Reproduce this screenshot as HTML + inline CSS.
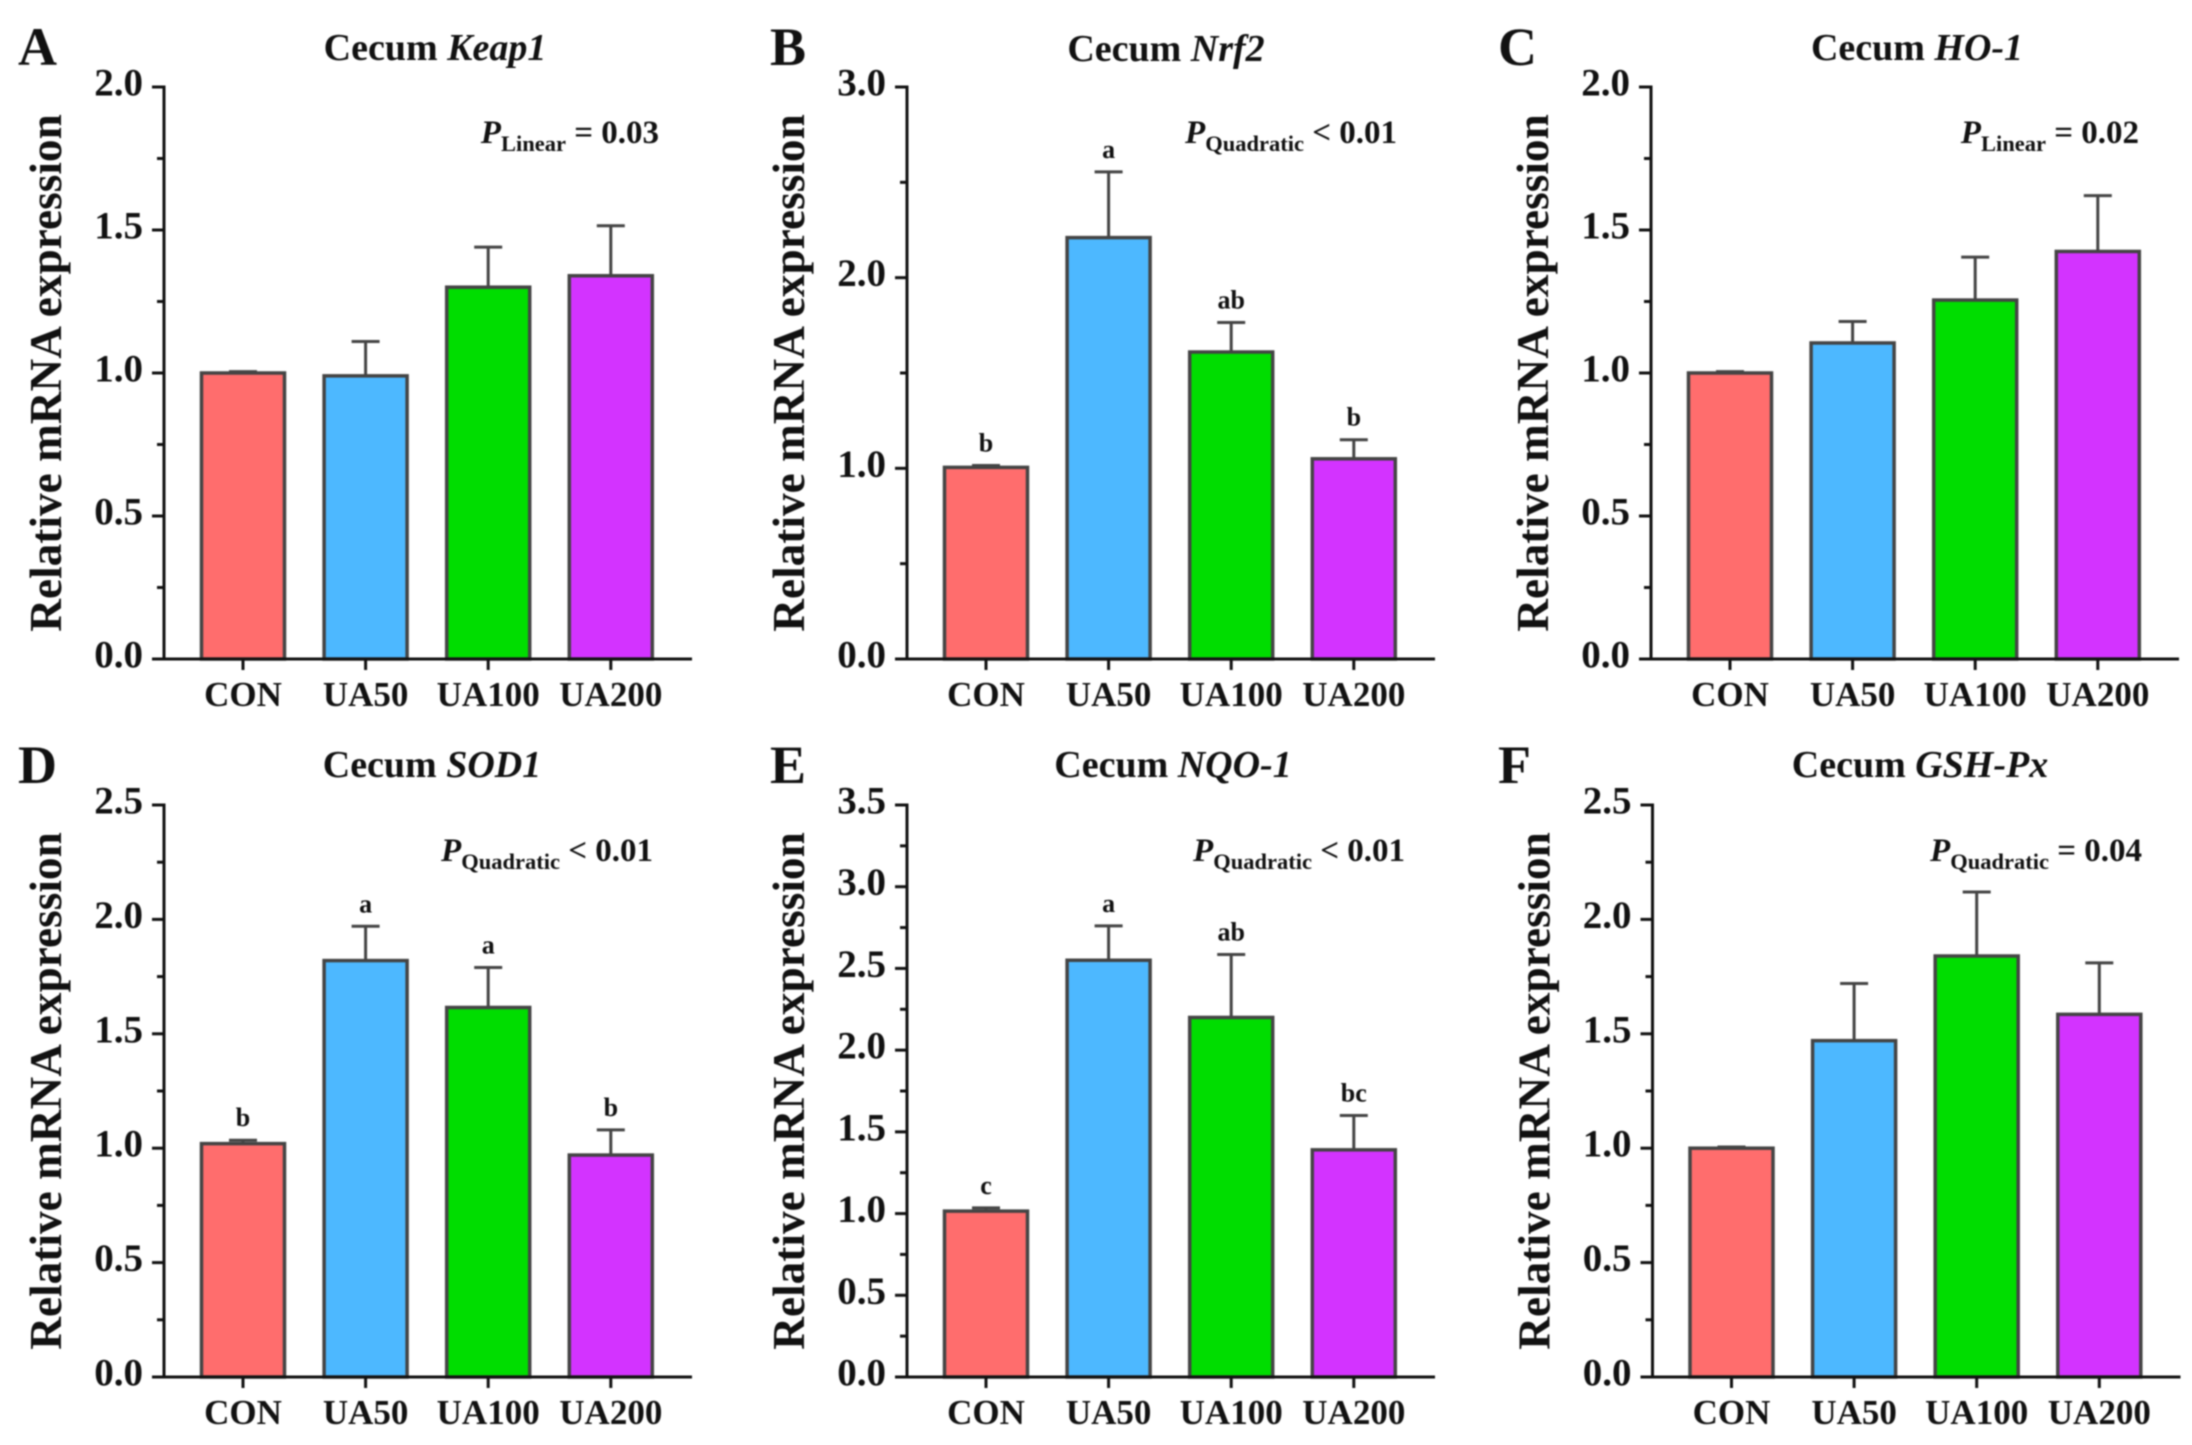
<!DOCTYPE html>
<html lang="en">
<head>
<meta charset="utf-8">
<title>Cecum mRNA expression</title>
<style>
html,body{margin:0;padding:0;background:#fff;width:2192px;height:1445px;overflow:hidden}
svg{display:block;filter:blur(.8px)}
text{font-family:"Liberation Serif",serif;font-weight:700;fill:#111}
</style>
</head>
<body>
<svg id="figure" xmlns="http://www.w3.org/2000/svg" width="2192" height="1445" viewBox="0 0 2192 1445"></svg>
<script>
const categories = ['CON', 'UA50', 'UA100', 'UA200'];

const keap1Means = [1.00, 0.99, 1.30, 1.34];
const keap1Errors = [0.005, 0.12, 0.14, 0.175];
const keap1Letters = ['', '', '', ''];
const keap1Ticks = ['0.0', '0.5', '1.0', '1.5', '2.0'];

const nrf2Means = [1.005, 2.21, 1.61, 1.05];
const nrf2Errors = [0.01, 0.345, 0.155, 0.10];
const nrf2Letters = ['b', 'a', 'ab', 'b'];
const nrf2Ticks = ['0.0', '1.0', '2.0', '3.0'];

const ho1Means = [1.00, 1.105, 1.255, 1.425];
const ho1Errors = [0.005, 0.075, 0.15, 0.195];
const ho1Letters = ['', '', '', ''];
const ho1Ticks = ['0.0', '0.5', '1.0', '1.5', '2.0'];

const sod1Means = [1.02, 1.82, 1.615, 0.97];
const sod1Errors = [0.015, 0.15, 0.175, 0.11];
const sod1Letters = ['b', 'a', 'a', 'b'];
const sod1Ticks = ['0.0', '0.5', '1.0', '1.5', '2.0', '2.5'];

const nqo1Means = [1.015, 2.55, 2.20, 1.39];
const nqo1Errors = [0.02, 0.21, 0.385, 0.21];
const nqo1Letters = ['c', 'a', 'ab', 'bc'];
const nqo1Ticks = ['0.0', '0.5', '1.0', '1.5', '2.0', '2.5', '3.0', '3.5'];

const gshPxMeans = [1.00, 1.47, 1.84, 1.585];
const gshPxErrors = [0.005, 0.25, 0.28, 0.225];
const gshPxLetters = ['', '', '', ''];
const gshPxTicks = ['0.0', '0.5', '1.0', '1.5', '2.0', '2.5'];

const barColors = ['#FF6D6D', '#4DB8FF', '#00DD00', '#D333FF'];

const panels = [
  {id:'a', letter:'A', gene:'Keap1', means:keap1Means, errors:keap1Errors, marks:keap1Letters, ticks:keap1Ticks, pSub:'Linear', pText:' = 0.03', left:164, top:87, letterX:18, titleX:436, pX:659, titleY:60},
  {id:'b', letter:'B', gene:'Nrf2', means:nrf2Means, errors:nrf2Errors, marks:nrf2Letters, ticks:nrf2Ticks, pSub:'Quadratic', pText:' < 0.01', left:907, top:87, letterX:770, titleX:1167, pX:1397, titleY:61},
  {id:'c', letter:'C', gene:'HO-1', means:ho1Means, errors:ho1Errors, marks:ho1Letters, ticks:ho1Ticks, pSub:'Linear', pText:' = 0.02', left:1651, top:87, letterX:1498, titleX:1918, pX:2139, titleY:60},
  {id:'d', letter:'D', gene:'SOD1', means:sod1Means, errors:sod1Errors, marks:sod1Letters, ticks:sod1Ticks, pSub:'Quadratic', pText:' < 0.01', left:164, top:805, letterX:18, titleX:433, pX:653, titleY:777},
  {id:'e', letter:'E', gene:'NQO-1', means:nqo1Means, errors:nqo1Errors, marks:nqo1Letters, ticks:nqo1Ticks, pSub:'Quadratic', pText:' < 0.01', left:907, top:805, letterX:770, titleX:1174, pX:1405, titleY:777},
  {id:'f', letter:'F', gene:'GSH-Px', means:gshPxMeans, errors:gshPxErrors, marks:gshPxLetters, ticks:gshPxTicks, pSub:'Quadratic', pText:' = 0.04', left:1652.5, top:805, letterX:1498, titleX:1921, pX:2142, titleY:777}
];

const NS = 'http://www.w3.org/2000/svg';
const PLOT_HEIGHT = 572;
const PLOT_WIDTH = 528;
const BAR_WIDTH = 83;
const FIRST_BAR = 79;
const BAR_STEP = 122.6;
const AXIS_COLOR = '#111';
const BAR_STROKE = '#444';
const figure = document.getElementById('figure');

function make(tag, parent) {
  const el = document.createElementNS(NS, tag);
  parent.appendChild(el);
  return el;
}
function setLine(el, x1, y1, x2, y2, color, width) {
  el.setAttribute('x1', x1);
  el.setAttribute('y1', y1);
  el.setAttribute('x2', x2);
  el.setAttribute('y2', y2);
  el.setAttribute('stroke', color);
  el.setAttribute('stroke-width', width);
}
function setText(el, x, y, size, anchor, content) {
  el.setAttribute('x', x);
  el.setAttribute('y', y);
  el.setAttribute('font-size', size);
  el.setAttribute('text-anchor', anchor);
  if (content !== undefined) el.textContent = content;
}

panels.forEach(function (p) {
  const maxValue = parseFloat(p.ticks[p.ticks.length - 1]);
  const bottom = p.top + PLOT_HEIGHT;
  const yScale = function (v) { return bottom - (v / maxValue) * PLOT_HEIGHT; };
  const xScale = function (i) { return p.left + FIRST_BAR + i * BAR_STEP; };

  const g = make('g', figure);
  
  

  const letter = make('text', g);
  
  
  setText(letter, p.letterX, p.top - 22, 54, 'start', p.letter);

  const title = make('text', g);
  
  
  setText(title, p.titleX - 1, p.titleY, 38, 'middle');
  const titleA = make('tspan', title);
  titleA.textContent = 'Cecum ';
  const titleB = make('tspan', title);
  titleB.setAttribute('font-style', 'italic');
  titleB.textContent = p.gene;

  const yTitle = make('text', g);
  
  
  setText(yTitle, 0, 0, 45.3, 'middle', 'Relative mRNA expression');
  yTitle.setAttribute('transform', 'translate(' + (p.left - 100 - 3) + ',' + (p.top + 286) + ') rotate(-90)');

  p.means.forEach(function (m, i) {
    const errorTop = yScale(m + p.errors[i]);
    const barTop = yScale(m);
    const cx = xScale(i);

    const stem = make('line', g);
    
    
    setLine(stem, cx, barTop, cx, errorTop, BAR_STROKE, 3);

    const cap = make('line', g);
    
    
    setLine(cap, cx - 14, errorTop, cx + 14, errorTop, BAR_STROKE, 3);

    const bar = make('rect', g);
    
    
    bar.setAttribute('x', cx - BAR_WIDTH / 2);
    bar.setAttribute('y', barTop);
    bar.setAttribute('width', BAR_WIDTH);
    bar.setAttribute('height', bottom - barTop);
    bar.setAttribute('fill', barColors[i]);
    bar.setAttribute('stroke', BAR_STROKE);
    bar.setAttribute('stroke-width', 3.5);

    if (p.marks[i]) {
      const mark = make('text', g);
      
      
      setText(mark, cx, errorTop - 14, 26, 'middle', p.marks[i]);
    }

    const tick = make('line', g);
    
    
    setLine(tick, cx, bottom, cx, bottom + 11, AXIS_COLOR, 3);

    const label = make('text', g);
    
    
    setText(label, cx, bottom + 47, 35, 'middle', categories[i]);
  });

  const yAxis = make('line', g);
  
  
  setLine(yAxis, p.left, p.top - 1.5, p.left, bottom + 1.5, AXIS_COLOR, 3);

  const xAxis = make('line', g);
  
  
  setLine(xAxis, p.left - 12, bottom, p.left + PLOT_WIDTH, bottom, AXIS_COLOR, 3);

  p.ticks.forEach(function (t, i) {
    const v = parseFloat(t);
    const y = yScale(v);

    const tick = make('line', g);
    
    
    setLine(tick, p.left - 12, y, p.left, y, AXIS_COLOR, 3);

    const label = make('text', g);
    
    
    setText(label, p.left - 21, y + 8.5, 39, 'end', t);

    if (i < p.ticks.length - 1) {
      const next = parseFloat(p.ticks[i + 1]);
      const minorY = yScale((v + next) / 2);
      const minor = make('line', g);
      
      
      setLine(minor, p.left - 7, minorY, p.left, minorY, AXIS_COLOR, 3);
    }
  });

  const pLabel = make('text', g);
  
  
  pLabel.setAttribute('xml:space', 'preserve');
  setText(pLabel, p.pX, p.top + 56, 33, 'end');
  const pMain = make('tspan', pLabel);
  pMain.setAttribute('font-style', 'italic');
  pMain.textContent = 'P';
  const pSub = make('tspan', pLabel);
  pSub.setAttribute('font-size', 22.5);
  pSub.setAttribute('dy', 8);
  pSub.textContent = p.pSub;
  const pRest = make('tspan', pLabel);
  pRest.setAttribute('dy', -8);
  pRest.textContent = p.pText;
});
</script>
</body>
</html>
